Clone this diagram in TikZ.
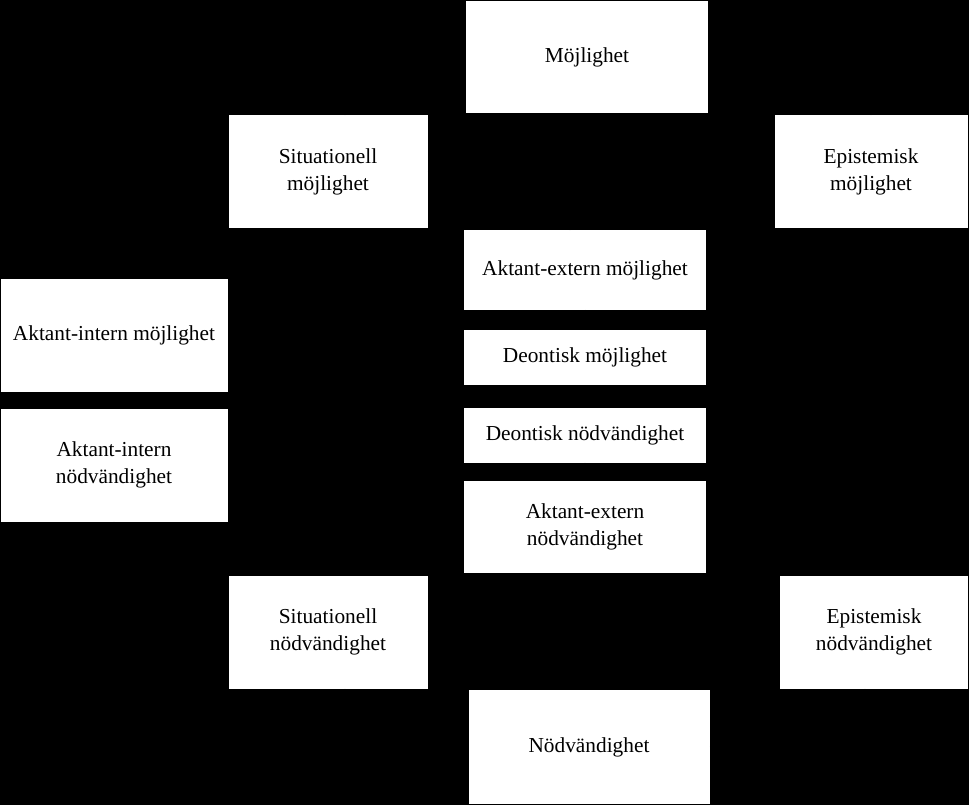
\documentclass[tikz,border=0pt]{standalone}
\usepackage{fontspec}
\setmainfont{Liberation Serif}
\usetikzlibrary{positioning}
\tikzset{
  modbox/.style={fill=white, draw=none, align=center, inner sep=0pt,
    font=\fontsize{16}{20}\selectfont},
  modarrow/.style={draw=black, line width=1pt, -latex}
}
\begin{document}
\begin{tikzpicture}[x=0.75pt, y=-0.75pt]
\fill[black] (0,0) rectangle (969,805);
\useasboundingbox (0,0) rectangle (969,805);
% top half
\node[modbox, minimum width=242*0.75pt, minimum height=112*0.75pt] (moj) at (587,57) {Möjlighet};
\node[modbox, minimum width=199*0.75pt, minimum height=113*0.75pt] (sitmoj) at (328,172) {Situationell\\möjlighet};
\node[modbox, minimum width=193*0.75pt, minimum height=113*0.75pt] (epimoj) at (871,172) {Epistemisk\\möjlighet};
\node[modbox, minimum width=242*0.75pt, minimum height=79*0.75pt] (extmoj) at (585,270) {Aktant-extern möjlighet};
\node[modbox, minimum width=227*0.75pt, minimum height=113*0.75pt] (intmoj) at (114,335) {Aktant-intern möjlighet};
\node[modbox, minimum width=242*0.75pt, minimum height=55*0.75pt] (deomoj) at (585,357) {Deontisk möjlighet};
% bottom half
\node[modbox, minimum width=227*0.75pt, minimum height=113*0.75pt] (intnod) at (114,465) {Aktant-intern\\nödvändighet};
\node[modbox, minimum width=242*0.75pt, minimum height=55*0.75pt] (deonod) at (585,435) {Deontisk nödvändighet};
\node[modbox, minimum width=242*0.75pt, minimum height=92*0.75pt] (extnod) at (585,527) {Aktant-extern\\nödvändighet};
\node[modbox, minimum width=199*0.75pt, minimum height=113*0.75pt] (sitnod) at (328,632) {Situationell\\nödvändighet};
\node[modbox, minimum width=188*0.75pt, minimum height=113*0.75pt] (epinod) at (874,632) {Epistemisk\\nödvändighet};
\node[modbox, minimum width=241*0.75pt, minimum height=114*0.75pt] (nod) at (589,747) {Nödvändighet};
% connectors
\draw[modarrow] (moj.west) -| ([xshift=17*0.75pt]sitmoj.north);
\draw[modarrow] (moj.east) -| (epimoj.north);
\draw[modarrow] (sitmoj.east) -| ([xshift=-15*0.75pt]extmoj.north);
\draw[modarrow] (sitmoj.west) -| (intmoj.north);
\draw[modarrow] (extmoj) -- (deomoj);
\draw[modarrow] (nod.west) -| ([xshift=17*0.75pt]sitnod.south);
\draw[modarrow] (nod.east) -| ([xshift=-9*0.75pt]epinod.south);
\draw[modarrow] (sitnod.east) -| ([xshift=-10*0.75pt]extnod.south);
\draw[modarrow] (sitnod.west) -| (intnod.south);
\draw[modarrow] (extnod) -- (deonod);
\end{tikzpicture}
\end{document}
